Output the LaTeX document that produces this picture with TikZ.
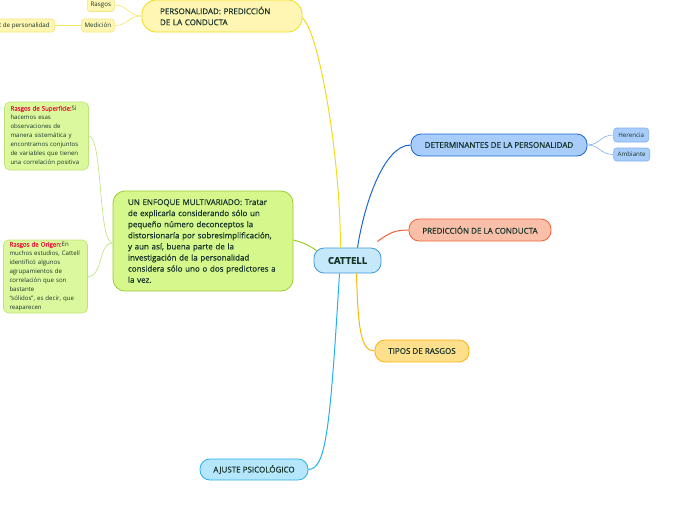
\documentclass[tikz,border=0pt]{standalone}
\usepackage{fontspec}
\setmainfont{Open Sans}
\newfontfamily\mmfont{Open Sans}[FakeBold=0.7]
\usepackage{tikz}
\usetikzlibrary{positioning}

\definecolor{ink}{HTML}{17352B}
\definecolor{rasred}{HTML}{E8173A}
\definecolor{cafill}{HTML}{C6E8FB}
\definecolor{caline}{HTML}{3D9AD9}
\definecolor{yefill}{HTML}{FFF6B3}
\definecolor{yeline}{HTML}{F2DA1C}
\definecolor{yeleaf}{HTML}{F8E47C}
\definecolor{grfill}{HTML}{D6F78C}
\definecolor{grline}{HTML}{9CCB2C}
\definecolor{grleaf}{HTML}{BFE27A}
\definecolor{blfill}{HTML}{A9CDFA}
\definecolor{blline}{HTML}{1B66D6}
\definecolor{blleaf}{HTML}{7FB0F0}
\definecolor{rdfill}{HTML}{F9BFA8}
\definecolor{rdline}{HTML}{F26237}
\definecolor{orfill}{HTML}{FEDF8C}
\definecolor{orline}{HTML}{F9B50A}
\definecolor{lbfill}{HTML}{B6E6FB}
\definecolor{lbline}{HTML}{23B0EF}

\begin{document}
\begin{tikzpicture}[x=1pt, y=-1pt,
  topic/.style={rectangle, rounded corners=10pt, draw, line width=0.8pt,
                font=\mmfont\fontsize{8}{9}\selectfont, text=ink, align=center,
                inner sep=0pt, minimum height=22pt},
  note/.style={rectangle, rounded corners=11pt, draw, line width=0.8pt,
               font=\mmfont\fontsize{8}{11.1}\selectfont, text=ink, align=left,
               inner ysep=0pt},
  leaf/.style={rectangle, rounded corners=3pt, draw, line width=0.6pt,
               font=\fontsize{6.2}{7}\selectfont, text=ink, align=center,
               inner sep=0pt, minimum height=13pt},
  fact/.style={rectangle, rounded corners=5pt, draw=grleaf, fill=grfill!85!white,
               line width=0.6pt, font=\fontsize{6.1}{9}\selectfont, text=ink,
               align=left, inner xsep=6pt, inner ysep=0pt, text width=72pt},
  link/.style={line width=1pt},
  twig/.style={line width=0.6pt}
]
\useasboundingbox (0,0) rectangle (696,520);

% centre
\node[topic, fill=cafill, draw=caline, minimum width=67pt, minimum height=25pt,
      font=\mmfont\fontsize{9.5}{10}\selectfont\bfseries] (cattell) at (347.5,260.5) {CATTELL};

% main branches
\node[note, fill=yefill, draw=yeline, rounded corners=14pt, text width=124pt,
      inner xsep=18pt, minimum height=32pt, font=\mmfont\fontsize{8}{11}\selectfont] (perso) at (222,16)
  {PERSONALIDAD: PREDICCIÓN\\DE LA CONDUCTA};
\node[topic, fill=blfill, draw=blline, minimum width=176pt] (determ) at (499,145)
  {DETERMINANTES DE LA PERSONALIDAD};
\node[topic, fill=rdfill, draw=rdline, minimum width=142pt] (pred) at (480,230)
  {PREDICCIÓN DE LA CONDUCTA};
\node[topic, fill=orfill, draw=orline, minimum width=94pt] (tipos) at (422,351)
  {TIPOS DE RASGOS};
\node[topic, fill=lbfill, draw=lbline, minimum width=108pt, minimum height=21pt] (ajuste) at (254,469.5)
  {AJUSTE PSICOLÓGICO};
\node[note, fill=grfill, draw=grline, rounded corners=12pt, text width=150pt,
      inner xsep=15pt, minimum height=100pt] (enfoque) at (203,241)
  {UN ENFOQUE MULTIVARIADO: Tratar\\de explicarla considerando sólo un\\
   pequeño número deconceptos la\\distorsionaría por sobresimplificación,\\
   y aun así, buena parte de la\\investigación de la personalidad\\
   considera sólo uno o dos predictores a\\la vez.};

% leaves
\node[leaf, fill=blfill, draw=blleaf, minimum width=35pt, minimum height=14pt,
      right=26pt of determ, yshift=10pt] (herencia) {Herencia};
\node[leaf, fill=blfill, draw=blleaf, minimum width=36pt,
      right=26pt of determ, yshift=-9.5pt] (ambiante) {Ambiante};
\node[leaf, fill=yefill, draw=yeleaf, minimum width=27pt,
      left=27pt of perso, yshift=11pt] (rasgos) {Rasgos};
\node[leaf, fill=yefill, draw=yeleaf, minimum width=33pt,
      left=27pt of perso, yshift=-9.5pt] (medicion) {Medición};
\node[leaf, fill=yefill, draw=yeleaf, minimum width=70pt,
      left=26pt of medicion] (test) {Test de personalidad};
\node[fact, minimum height=68pt] (superf) at (46.5,136)
  {\textcolor{rasred}{\mmfont Rasgos de Superficie:}Si\\hacemos esas\\observaciones de\\
   manera sistemática y\\encontramos conjuntos\\de variables que tienen\\una correlación positiva};
\node[fact, minimum height=73pt] (origen) at (45.5,276.5)
  {\textcolor{rasred}{\mmfont Rasgos de Origen:}En\\muchos estudios, Cattell\\identificó algunos\\
   agrupamientos de\\correlación que son\\bastante\\“sólidos”, es decir, que\\reaparecen};

% connectors from the centre
\draw[link, yeline] ([xshift=-7pt]cattell.north) .. controls (340,150) and (318,30) .. ([yshift=-2pt]perso.east);
\draw[link, blline] ([xshift=10pt]cattell.north) .. controls (365,200) and (385,145) .. (determ.west);
\draw[link, rdline] ([xshift=-4pt,yshift=6pt]cattell.north east) .. controls (390,232) and (396,230) .. (pred.west);
\draw[link, orline] ([xshift=9pt]cattell.south) .. controls (358,330) and (361,351) .. (tipos.west);
\draw[link, lbline] ([xshift=-8pt]cattell.south) .. controls (330,430) and (326,469) .. (ajuste.east);
\draw[link, grline] ([xshift=3pt,yshift=-3pt]cattell.north west) .. controls (306,243) and (300,242) .. ([yshift=1pt]enfoque.east);

% connectors to the leaves
\draw[twig, blleaf] (determ.east) .. controls (600,145) and (600,135) .. (herencia.west);
\draw[twig, blleaf] (determ.east) .. controls (600,145) and (600,154.5) .. (ambiante.west);
\draw[twig, yeline!70!white] (perso.west) .. controls (128,16) and (128,5) .. (rasgos.east);
\draw[twig, yeline!70!white] (perso.west) .. controls (128,16) and (128,25.5) .. (medicion.east);
\draw[twig, yeline!70!white] (medicion.west) -- (test.east);
\draw[twig, grleaf] ([yshift=-2pt]enfoque.west) .. controls (98,243) and (103,137) .. (superf.east);
\draw[twig, grleaf] ([yshift=-2pt]enfoque.west) .. controls (98,243) and (103,277) .. (origen.east);

\end{tikzpicture}
\end{document}
